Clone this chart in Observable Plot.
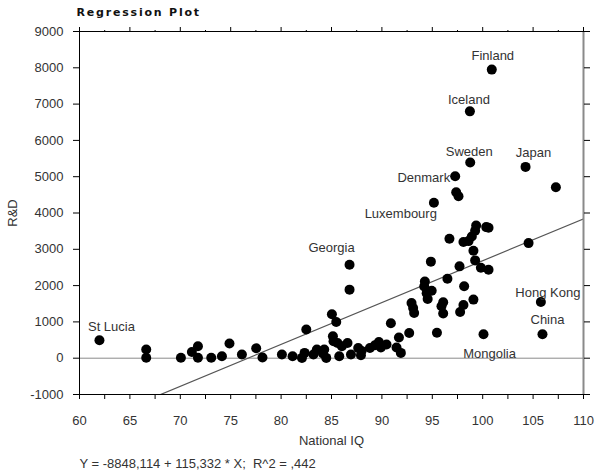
<!DOCTYPE html>
<html>
<head>
<meta charset="utf-8">
<script src="https://cdn.jsdelivr.net/npm/d3@7"></script>
<script src="https://cdn.jsdelivr.net/npm/@observablehq/plot@0.6"></script>
<style>
  html, body { margin: 0; padding: 0; background: #fff; }
  #chart { width: 598px; height: 472px; }
</style>
</head>
<body>
<div id="chart"></div>
<script>
// ---- data ----
const nationalIQ = [61.98, 66.62, 66.62, 70.06, 71.15, 71.75, 71.75, 73.07, 74.13, 74.88,
  76.11, 77.53, 78.15, 80.08, 81.14, 82.07, 82.33, 82.5, 83.21, 83.55,
  84.15, 84.28, 84.48, 85.04, 85.47, 85.14, 85.2, 85.6, 85.77, 86.03,
  86.59, 86.79, 86.79, 86.93, 87.65, 87.92, 87.98, 88.81, 89.31, 89.7,
  89.9, 90.46, 90.89, 91.45, 91.69, 91.88, 92.71, 92.94, 93.1, 93.2,
  94.26, 94.2, 94.94, 94.44, 94.54, 94.86, 95.46, 96.08, 95.91, 96.08,
  96.5, 95.16, 96.7, 97.27, 97.37, 97.6, 97.7, 98.09, 97.76, 98.09,
  98.16, 98.6, 98.73, 98.76, 98.92, 99.08, 99.25, 99.25, 99.35, 99.08,
  99.82, 100.08, 100.35, 100.58, 100.58, 100.9, 104.25, 104.55, 105.77, 105.93,
  107.26];
const researchDev = [495, 240, 10, 10, 173, 330, 10, 10, 55, 404,
  102, 275, 19, 102, 55, 8, 146, 789, 102, 239,
  129, 239, 8, 1210, 998, 605, 467, 421, 55, 330,
  421, 2576, 1889, 102, 283, 82, 201, 283, 357, 448,
  294, 376, 965, 294, 569, 146, 696, 1521, 1384, 1246,
  2110, 1975, 1860, 1790, 1630, 2660, 700, 1540, 1430, 1229,
  2190, 4281, 3291, 5012, 4573, 4462, 2530, 1466, 1273, 3199,
  1980, 3226, 6800, 5390, 3355, 2959, 2694, 3510, 3657, 1614,
  2494, 660, 3611, 3593, 2439, 7950, 5270, 3171, 1548, 660,
  4710];

const labelNames = ["Finland", "Iceland", "Sweden", "Japan", "Denmark", "Luxembourg", "Georgia", "St Lucia", "Hong Kong", "China", "Mongolia"];
const labelIQ    = [100.9, 98.73, 98.76, 104.25, 97.27, 95.16, 86.79, 61.98, 105.77, 105.93, 100.08];
const labelRD    = [7950, 6800, 5390, 5270, 5012, 4281, 2576, 495, 1548, 660, 660];

const xTickValues = [60, 65, 70, 75, 80, 85, 90, 95, 100, 105, 110];
const yTickValues = [-1000, 0, 1000, 2000, 3000, 4000, 5000, 6000, 7000, 8000, 9000];
const interceptB0 = -8848.114;
const slopeB1 = 115.332;
const titleText = "Regression Plot";
const equationText = "Y = -8848,114 + 115,332 * X;  R^2 = ,442";

// ---- layout for annotations (code, not data) ----
const labelLayout = {
  "Finland":    {dx: 1,  dy: -14, anchor: "middle"},
  "Iceland":    {dx: -1, dy: -12, anchor: "middle"},
  "Sweden":     {dx: -1, dy: -11, anchor: "middle"},
  "Japan":      {dx: 8,  dy: -14, anchor: "middle"},
  "Denmark":    {dx: -5, dy: 2,   anchor: "end"},
  "Luxembourg": {dx: 3,  dy: 11,  anchor: "end"},
  "Georgia":    {dx: -18, dy: -17, anchor: "middle"},
  "St Lucia":   {dx: 12, dy: -13, anchor: "middle"},
  "Hong Kong":  {dx: 7,  dy: -9,  anchor: "middle"},
  "China":      {dx: 5,  dy: -14, anchor: "middle"},
  "Mongolia":   {dx: 6,  dy: 20,  anchor: "middle"}
};

const points = nationalIQ.map((x, i) => ({x, y: researchDev[i]}));
const labels = labelNames.map((name, i) => ({name, x: labelIQ[i], y: labelRD[i]}));
const fitLine = [60, 110].map(x => ({x, y: interceptB0 + slopeB1 * x}));
const minorX = d3.range(62.5, 110, 5);

const font = "'Liberation Sans', Arial, sans-serif";

const chart = Plot.plot({
  width: 598,
  height: 472,
  marginLeft: 79,
  marginRight: 15,
  marginTop: 31,
  marginBottom: 78,
  style: {fontFamily: font, fontSize: "13px", color: "#333", background: "#fff", overflow: "visible"},
  x: {domain: [60, 110]},
  y: {domain: [-1000, 9000]},
  marks: [
    Plot.ruleY([0], {stroke: "#8a8a8a", strokeWidth: 1}),
    Plot.line(fitLine, {x: "x", y: "y", stroke: "#555", strokeWidth: 1.2, clip: true}),
    Plot.dot(points, {x: "x", y: "y", r: 5, fill: "#000", stroke: "none"}),
    ...labels.map(d => Plot.text([d], {
      x: "x", y: "y", text: "name",
      dx: labelLayout[d.name].dx, dy: labelLayout[d.name].dy,
      textAnchor: labelLayout[d.name].anchor,
      fill: "#333", fontSize: 13
    })),
    // frame
    Plot.ruleX([110], {stroke: "#8a8a8a", strokeWidth: 2}),
    Plot.ruleX([60], {stroke: "#000"}),
    Plot.ruleY([9000], {stroke: "#000"}),
    Plot.ruleY([-1000], {stroke: "#000"}),
    // axes
    Plot.axisX({anchor: "bottom", ticks: minorX, tickSize: 5, text: null, label: null, stroke: "#000"}),
    Plot.axisX({anchor: "bottom", ticks: xTickValues, tickSize: 5, tickPadding: 16, tickFormat: d => String(d),
      label: "National IQ", labelAnchor: "center", labelArrow: "none", labelOffset: 50, stroke: "#000", fill: "#333"}),
    Plot.axisX({anchor: "top", ticks: minorX, tickSize: 2, text: null, label: null, stroke: "#000"}),
    Plot.axisX({anchor: "top", ticks: xTickValues, tickSize: 5, text: null, label: null, stroke: "#000"}),
    Plot.axisY({anchor: "left", ticks: yTickValues, tickSize: 6, tickPadding: 10, tickFormat: d => String(d),
      label: "R&D", labelAnchor: "center", labelArrow: "none", labelOffset: 72, stroke: "#000", fill: "#333"}),
    Plot.axisY({anchor: "right", ticks: yTickValues, tickSize: 6, text: null, label: null, stroke: "#000"}),
    // title and equation
    Plot.text([titleText], {frameAnchor: "top-left", dx: -3, dy: -19, textAnchor: "start", lineAnchor: "middle",
      fontWeight: "bold", fontSize: 11, fill: "#111", fontFamily: "'DejaVu Sans', sans-serif"}),
    Plot.text([equationText], {frameAnchor: "bottom-left", dx: 0, dy: 69, textAnchor: "start", lineAnchor: "middle",
      fontSize: 13, fill: "#333"})
  ]
});
chart.querySelectorAll("text").forEach(t => {
  if (t.textContent === titleText) t.setAttribute("letter-spacing", "1.8");
});
document.getElementById("chart").appendChild(chart);
</script>
</body>
</html>
